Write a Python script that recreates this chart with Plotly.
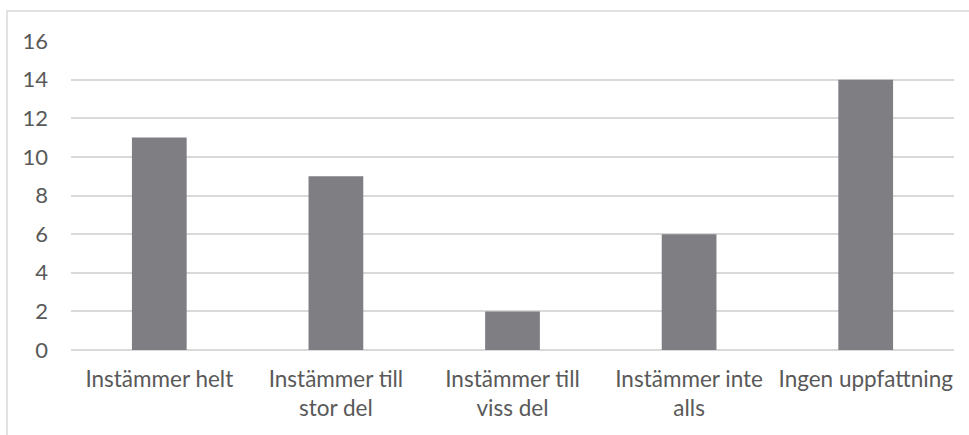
import plotly.graph_objects as go

categories = ["Instämmer helt", "Instämmer till<br>stor del", "Instämmer till<br>viss del",
              "Instämmer inte<br>alls", "Ingen uppfattning"]
values = [11, 9, 2, 6, 14]
y_ticks = [0, 2, 4, 6, 8, 10, 12, 14, 16]

W, H = 969, 435
ml, mr, mt, mb = 71, 15, 41, 85
pw, ph = W - ml - mr, H - mt - mb

fig = go.Figure(go.Bar(
    x=categories, y=values,
    marker=dict(color="#7f7e83", line=dict(width=0)),
    width=0.31,
))

# light outer frame of the chart area
fig.add_shape(type="rect", xref="paper", yref="paper",
              x0=(7 - ml) / pw, x1=(W + 10 - ml) / pw,
              y0=-(H + 10 - mt - ph) / ph, y1=(ph + mt - 11) / ph,
              line=dict(color="#d9d9d9", width=1.5), fillcolor="rgba(0,0,0,0)", layer="below")

fig.update_layout(
    width=W, height=H,
    margin=dict(l=ml, r=mr, t=mt, b=mb),
    paper_bgcolor="white", plot_bgcolor="white",
    font=dict(family="Lato, Carlito, sans-serif", size=22, color="#595959"),
    showlegend=False,
    bargap=0.69,
    xaxis=dict(showgrid=False, showline=False, ticks="", tickfont=dict(size=22.5),
               ticklabelstandoff=13),
    yaxis=dict(range=[0, 16], tickvals=y_ticks, showgrid=True, gridcolor="#d9d9d9",
               gridwidth=1.5, zeroline=True, zerolinecolor="#d9d9d9", zerolinewidth=1.5,
               showline=False, ticks="", ticklabelstandoff=22, tickfont=dict(size=22)),
)

fig.write_html("out.html")
